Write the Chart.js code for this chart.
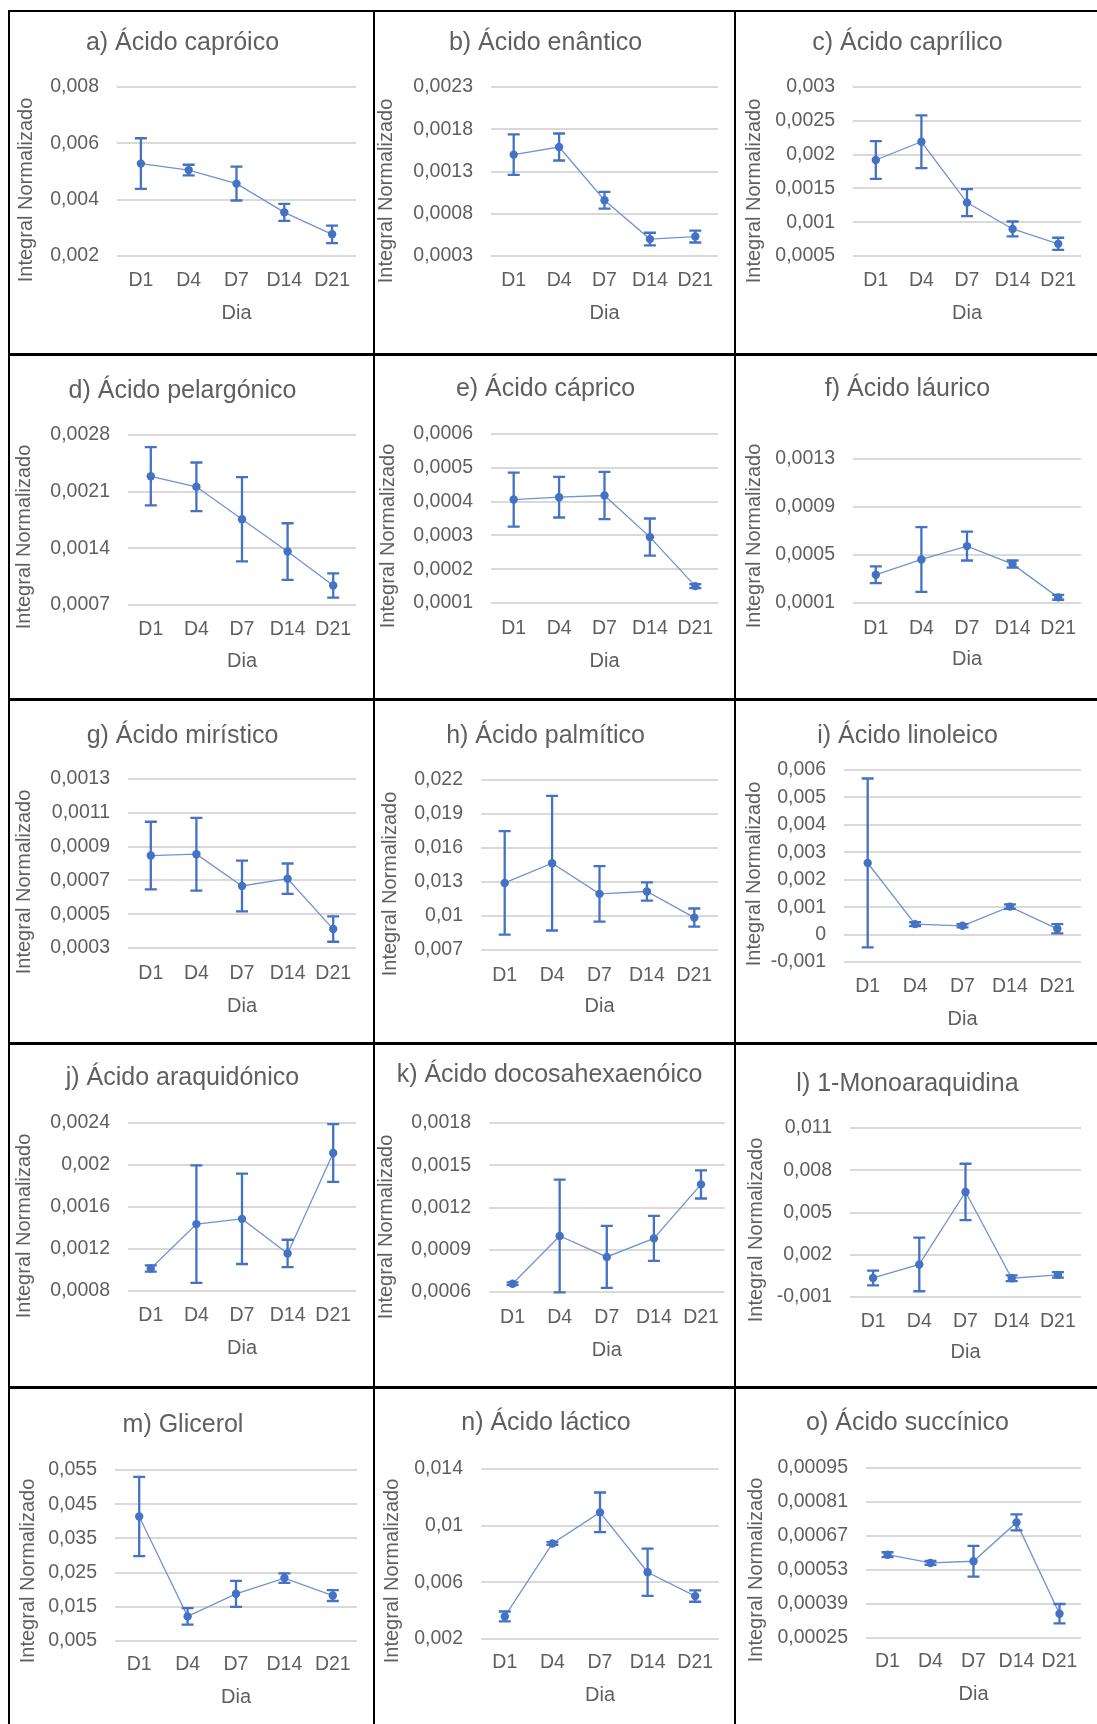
<!DOCTYPE html>
<html>
<head>
<meta charset="utf-8">
<script src="https://cdn.jsdelivr.net/npm/chart.js@4.4.1/dist/chart.umd.min.js"></script>
<style>
  html, body { margin: 0; padding: 0; background: #fff; overflow: hidden; }
  body { width: 1097px; height: 1724px; position: relative; }
  .panel { position: absolute; background: #fff; }
  .panel canvas { display: block; }
  .rule { position: absolute; background: #000; z-index: 2; }
</style>
</head>
<body>
<script>
const days = ['D1', 'D4', 'D7', 'D14', 'D21'];

// mean and standard deviation per sampling day
const caproicMean = [0.00528, 0.00505, 0.00457, 0.00355, 0.00277];
const caproicErr = [0.0009, 0.00019, 0.0006, 0.0003, 0.00031];
const enanthicMean = [0.00150, 0.00159, 0.00096, 0.00050, 0.00053];
const enanthicErr = [0.00024, 0.00016, 0.0001, 0.000075, 0.00007];
const caprylicMean = [0.00192, 0.00219, 0.00129, 0.00090, 0.00068];
const caprylicErr = [0.00028, 0.00039, 0.0002, 0.00011, 0.00009];
const pelargonicMean = [0.00229, 0.00216, 0.00176, 0.00136, 0.00094];
const pelargonicErr = [0.00036, 0.0003, 0.00052, 0.00035, 0.00015];
const capricMean = [0.000406, 0.000413, 0.000418, 0.000295, 0.00015];
const capricErr = [0.00008, 0.00006, 0.00007, 0.000055, 0.000006];
const lauricMean = [0.000335, 0.000463, 0.000574, 0.000424, 0.000147];
const lauricErr = [0.00007, 0.00027, 0.00012, 0.00003, 0.00002];
const myristicMean = [0.000847, 0.000855, 0.000667, 0.000710, 0.000412];
const myristicErr = [0.0002, 0.000215, 0.00015, 0.00009, 0.000075];
const palmiticMean = [0.01292, 0.01466, 0.01195, 0.01216, 0.00986];
const palmiticErr = [0.00457, 0.00594, 0.00245, 0.0008, 0.0008];
const linoleicMean = [0.00261, 0.00038, 0.00032, 0.00102, 0.00021];
const linoleicErr = [0.00308, 0.00007, 0.00006, 0.00008, 0.00017];
const arachidonicMean = [0.001015, 0.001437, 0.001487, 0.001158, 0.002115];
const arachidonicErr = [0.00003, 0.00056, 0.00043, 0.00013, 0.000275];
const dhaMean = [0.000659, 0.000998, 0.000849, 0.000981, 0.001364];
const dhaErr = [0.00001, 0.0004, 0.00022, 0.00016, 0.0001];
const monoarachidinMean = [0.00035, 0.00131, 0.00646, 0.00033, 0.00057];
const monoarachidinErr = [0.00052, 0.0019, 0.002, 0.0002, 0.0002];
const glycerolMean = [0.0414, 0.0122, 0.0188, 0.0234, 0.0183];
const glycerolErr = [0.0116, 0.0024, 0.0038, 0.0014, 0.0016];
const lacticMean = [0.00359, 0.00874, 0.01094, 0.00671, 0.00503];
const lacticErr = [0.00035, 0.0001, 0.0014, 0.00167, 0.0004];
const succinicMean = [0.000593, 0.000559, 0.000566, 0.000726, 0.00035];
const succinicErr = [0.00001, 0.000008, 0.000063, 0.000033, 0.00004];

const titles = [
  'a) Ácido capróico', 'b) Ácido enântico', 'c) Ácido caprílico',
  'd) Ácido pelargónico', 'e) Ácido cáprico', 'f) Ácido láurico',
  'g) Ácido mirístico', 'h) Ácido palmítico', 'i) Ácido linoleico',
  'j) Ácido araquidónico', 'k) Ácido docosahexaenóico', 'l) 1-Monoaraquidina',
  'm) Glicerol', 'n) Ácido láctico', 'o) Ácido succínico'
];
const means = [caproicMean, enanthicMean, caprylicMean, pelargonicMean, capricMean,
  lauricMean, myristicMean, palmiticMean, linoleicMean, arachidonicMean, dhaMean,
  monoarachidinMean, glycerolMean, lacticMean, succinicMean];
const errors = [caproicErr, enanthicErr, caprylicErr, pelargonicErr, capricErr,
  lauricErr, myristicErr, palmiticErr, linoleicErr, arachidonicErr, dhaErr,
  monoarachidinErr, glycerolErr, lacticErr, succinicErr];

// y axis ticks: [min, max, step]
const yTicks = [
  [0.002, 0.008, 0.002], [0.0003, 0.0023, 0.0005], [0.0005, 0.003, 0.0005],
  [0.0007, 0.0028, 0.0007], [0.0001, 0.0006, 0.0001], [0.0001, 0.0013, 0.0004],
  [0.0003, 0.0013, 0.0002], [0.007, 0.022, 0.003], [-0.001, 0.006, 0.001],
  [0.0008, 0.0024, 0.0004], [0.0006, 0.0018, 0.0003], [-0.001, 0.011, 0.003],
  [0.005, 0.055, 0.01], [0.002, 0.014, 0.004], [0.00025, 0.00095, 0.00014]
];

// per-panel placement inside its cell:
// plot box l/r/t/b, title centre, x label centre, x title centre, y title centre
const frames = [
  { l: 108, r: 347, t: 76, b: 245, title: 32, xlab: 270, dia: 302, ytx: 17, yty: 179 },
  { l: 118, r: 345, t: 76, b: 245, title: 32, xlab: 270, dia: 302, ytx: 13, yty: 180 },
  { l: 119, r: 347, t: 76, b: 245, title: 32, xlab: 270, dia: 302, ytx: 20, yty: 180 },
  { l: 119, r: 347, t: 81, b: 251, title: 37, xlab: 276, dia: 307, ytx: 15, yty: 183 },
  { l: 118, r: 345, t: 80, b: 249, title: 35, xlab: 275, dia: 307, ytx: 15, yty: 182 },
  { l: 119, r: 347, t: 105, b: 249, title: 35, xlab: 275, dia: 305, ytx: 20, yty: 182 },
  { l: 119, r: 347, t: 80, b: 249, title: 37, xlab: 275, dia: 307, ytx: 15, yty: 183 },
  { l: 108, r: 345, t: 81, b: 251, title: 37, xlab: 277, dia: 307, ytx: 17, yty: 185 },
  { l: 110, r: 347, t: 71, b: 263, title: 37, xlab: 288, dia: 320, ytx: 20, yty: 175 },
  { l: 119, r: 347, t: 80, b: 248, title: 35, xlab: 273, dia: 305, ytx: 15, yty: 183 },
  { l: 116, r: 353, t: 80, b: 249, title: 32, xlab: 275, dia: 307, ytx: 13, yty: 184 },
  { l: 116, r: 347, t: 85, b: 254, title: 41, xlab: 279, dia: 309, ytx: 22, yty: 187 },
  { l: 106, r: 348, t: 83, b: 254, title: 38, xlab: 278, dia: 310, ytx: 19, yty: 184 },
  { l: 108, r: 346, t: 82, b: 252, title: 36, xlab: 276, dia: 308, ytx: 19, yty: 184 },
  { l: 132, r: 347, t: 81, b: 251, title: 36, xlab: 275, dia: 307, ytx: 22, yty: 183 }
];

const colX = [9, 373, 734];
const colW = [364, 361, 363];
const rowY = [11, 354, 699, 1043, 1387];
const rowH = [343, 345, 344, 344, 337];

const BLUE = '#4472C4';
const LINE = '#6f93d4';
const TEXT = '#5f5f5f';
const FONT = '"Liberation Sans", Arial, sans-serif';

Chart.defaults.font.family = FONT;
Chart.defaults.color = TEXT;

// Portuguese decimal comma for tick labels
function decimalComma(v) {
  const r = Number(v.toPrecision(8));
  return String(Math.abs(r) < 1e-12 ? 0 : r).replace('.', ',');
}

// vertical error bars with caps, from the dataset's "errors" array
const errorBars = {
  id: 'errorBars',
  afterDatasetsDraw(chart) {
    const { ctx } = chart;
    const y = chart.scales.y;
    chart.data.datasets.forEach((ds, di) => {
      const meta = chart.getDatasetMeta(di);
      ctx.save();
      ctx.strokeStyle = ds.pointBackgroundColor;
      ctx.lineWidth = 2.3;
      meta.data.forEach((pt, i) => {
        const e = ds.errors[i];
        const top = y.getPixelForValue(ds.data[i] + e);
        const bot = y.getPixelForValue(ds.data[i] - e);
        ctx.beginPath();
        ctx.moveTo(pt.x, top);
        ctx.lineTo(pt.x, bot);
        ctx.moveTo(pt.x - 6, top);
        ctx.lineTo(pt.x + 6, top);
        ctx.moveTo(pt.x - 6, bot);
        ctx.lineTo(pt.x + 6, bot);
        ctx.stroke();
      });
      ctx.restore();
    });
  }
};

// rotated y axis title, centred over plot + category labels
const sideTitle = {
  id: 'sideTitle',
  afterDraw(chart, args, opts) {
    const ctx = chart.ctx;
    ctx.save();
    ctx.translate(opts.x, opts.y);
    ctx.rotate(-Math.PI / 2);
    ctx.font = '20px ' + FONT;
    ctx.fillStyle = opts.color;
    ctx.textAlign = 'center';
    ctx.textBaseline = 'middle';
    ctx.fillText(opts.text, 0, 0);
    ctx.restore();
  }
};

function addRule(x, y, w, h) {
  const d = document.createElement('div');
  d.className = 'rule';
  d.style.left = x + 'px';
  d.style.top = y + 'px';
  d.style.width = w + 'px';
  d.style.height = h + 'px';
  document.body.appendChild(d);
}

titles.forEach((title, k) => {
  const col = k % 3;
  const row = Math.floor(k / 3);
  const w = colW[col];
  const h = rowH[row];
  const f = frames[k];
  const [yMin, yMax, yStep] = yTicks[k];

  const div = document.createElement('div');
  div.className = 'panel';
  div.style.left = colX[col] + 'px';
  div.style.top = rowY[row] + 'px';
  div.style.width = w + 'px';
  div.style.height = h + 'px';
  const canvas = document.createElement('canvas');
  canvas.width = w;
  canvas.height = h;
  div.appendChild(canvas);
  document.body.appendChild(div);

  new Chart(canvas, {
    type: 'line',
    data: {
      labels: days,
      datasets: [{
        data: means[k],
        errors: errors[k],
        borderColor: LINE,
        backgroundColor: BLUE,
        borderWidth: 1.3,
        pointRadius: 4.2,
        pointBorderWidth: 0,
        pointBackgroundColor: BLUE,
        tension: 0
      }]
    },
    options: {
      responsive: false,
      animation: false,
      devicePixelRatio: 1,
      layout: { padding: { left: 0, top: 0, bottom: 0, right: w - f.r } },
      plugins: {
        legend: { display: false },
        tooltip: { enabled: false },
        title: {
          display: true,
          text: title,
          color: TEXT,
          font: { size: 25, weight: 'normal' },
          padding: { top: f.title - 15, bottom: f.t - f.title - 15 }
        },
        sideTitle: { text: 'Integral Normalizado', x: f.ytx, y: f.yty, color: TEXT }
      },
      scales: {
        x: {
          offset: true,
          grid: { display: false, drawTicks: false },
          border: { display: false },
          ticks: { padding: f.xlab - f.b - 11.7, font: { size: 19.5 }, color: TEXT, autoSkip: false, maxRotation: 0 },
          title: { display: true, text: 'Dia', font: { size: 20 }, color: TEXT, padding: { top: 0, bottom: h - f.dia - 12 } },
          afterFit(scale) { scale.height = h - f.b; }
        },
        y: {
          min: yMin,
          max: yMax,
          grid: { color: '#d9d9d9', lineWidth: 2, drawTicks: false },
          border: { display: false },
          ticks: { stepSize: yStep, padding: 18, font: { size: 19.5 }, color: TEXT, callback: v => decimalComma(v) },
          afterFit(scale) { scale.width = f.l; }
        }
      }
    },
    plugins: [errorBars, sideTitle]
  });
});

// black frame lines between the panels
[8, 373, 734].forEach(x => addRule(x, 10, 2, 1714));
addRule(8, 10, 1089, 2);
[353, 698, 1042, 1386].forEach(y => addRule(8, y, 1089, 3));
</script>
</body>
</html>
